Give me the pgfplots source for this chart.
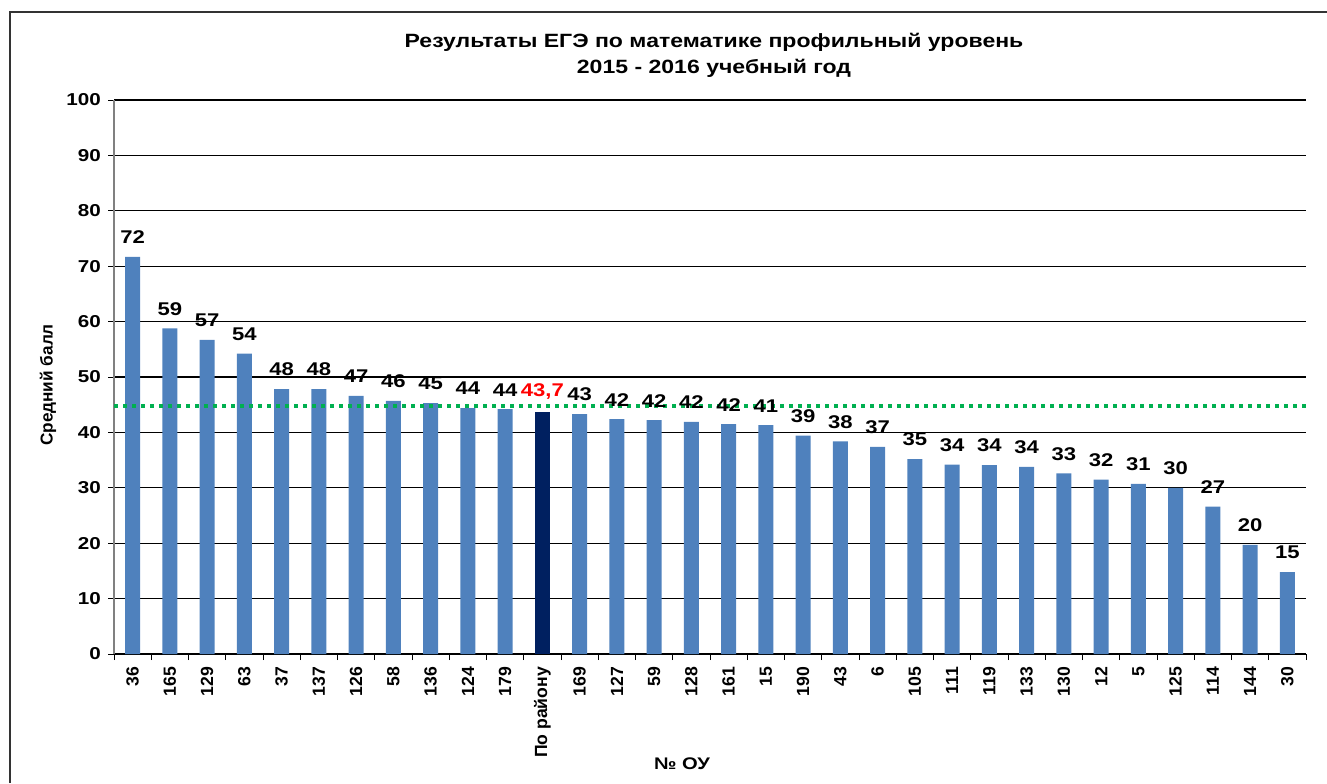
\documentclass[border=0pt]{standalone}
\usepackage{fontspec}
\setmainfont{Liberation Sans}
\newfontfamily\wide{Liberation Sans}[FakeStretch=1.2]
\usepackage{pgfplots}
\pgfplotsset{compat=1.18}
\usepackage{pgfplotstable}
\definecolor{barblue}{HTML}{4F81BD}
\definecolor{bardark}{HTML}{002060}
\definecolor{avggreen}{HTML}{00B050}

\pgfplotstableread{
x y lab
0 71.7 72
1 58.8 59
2 56.7 57
3 54.2 54
4 47.8 48
5 47.8 48
6 46.6 47
7 45.7 46
8 45.3 45
9 44.4 44
10 44.2 44
12 43.3 43
13 42.4 42
14 42.2 42
15 41.9 42
16 41.5 42
17 41.3 41
18 39.4 39
19 38.4 38
20 37.4 37
21 35.2 35
22 34.2 34
23 34.1 34
24 33.8 34
25 32.6 33
26 31.5 32
27 30.7 31
28 30.0 30
29 26.6 27
30 19.7 20
31 14.8 15
}\schools

\pgfplotstableread{
x y lab
11 43.7 {43,7}
}\district

\begin{document}
\begin{tikzpicture}
\path[use as bounding box] (0,0) rectangle (663.5pt,-391.5pt);
\draw[line width=1pt, black!80] (5pt,-391.5pt) -- (5pt,-6pt) -- (663.5pt,-6pt);
\node[font=\wide\bfseries\fontsize{9.6}{13}\selectfont, align=center] at (357pt,-27.5pt)
  {Результаты ЕГЭ по математике профильный уровень\\2015 - 2016 учебный год};
\node[rotate=90, font=\bfseries\fontsize{8.6}{10}\selectfont] at (24pt,-192.5pt) {Средний балл};
\node[font=\wide\bfseries\fontsize{8.4}{10}\selectfont] at (341pt,-382pt) {№ ОУ};
\begin{axis}[
  at={(57pt,-327pt)}, anchor=south west,
  scale only axis, width=596pt, height=277pt,
  xmin=-0.5, xmax=31.5, ymin=0, ymax=100,
  axis x line*=bottom, axis y line*=left,
  x axis line style={black, line width=0.6pt},
  y axis line style={black!50, line width=0.8pt},
  ytick={0,10,...,100},
  ymajorgrids, grid style={black, line width=0.6pt},
  xtick={-0.5,0.5,...,31.5},
  x tick label as interval,
  xticklabels={36,165,129,63,37,137,126,58,136,124,179,По району,169,127,59,128,161,15,190,43,6,105,111,119,133,130,12,5,125,114,144,30},
  tick align=outside, major tick length=3pt,
  tick style={black, line width=0.5pt},
  /pgf/number format/assume math mode=true,
  y tick label style={font=\wide\bfseries\fontsize{8.6}{10}\selectfont},
  x tick label style={rotate=90, anchor=east, font=\bfseries\fontsize{8.8}{10}\selectfont},
  bar width=7.5pt,
]
\addplot[ybar, bar shift=0pt, fill=barblue, draw=none,
  nodes near coords, point meta=explicit symbolic,
  every node near coord/.append style={font=\wide\bfseries\fontsize{9.2}{10}\selectfont, anchor=south, yshift=3pt, text=black}]
  table[x=x, y=y, meta=lab] {\schools};
\addplot[ybar, bar shift=0pt, fill=bardark, draw=none,
  nodes near coords, point meta=explicit symbolic,
  every node near coord/.append style={font=\wide\bfseries\fontsize{9.2}{10}\selectfont, anchor=south, yshift=3pt, text=red}]
  table[x=x, y=y, meta=lab] {\district};
\addplot[sharp plot, avggreen, line width=2pt, dash pattern=on 2pt off 2.5pt] coordinates {(-0.5,44.8) (31.5,44.8)};
\end{axis}
\end{tikzpicture}
\end{document}
